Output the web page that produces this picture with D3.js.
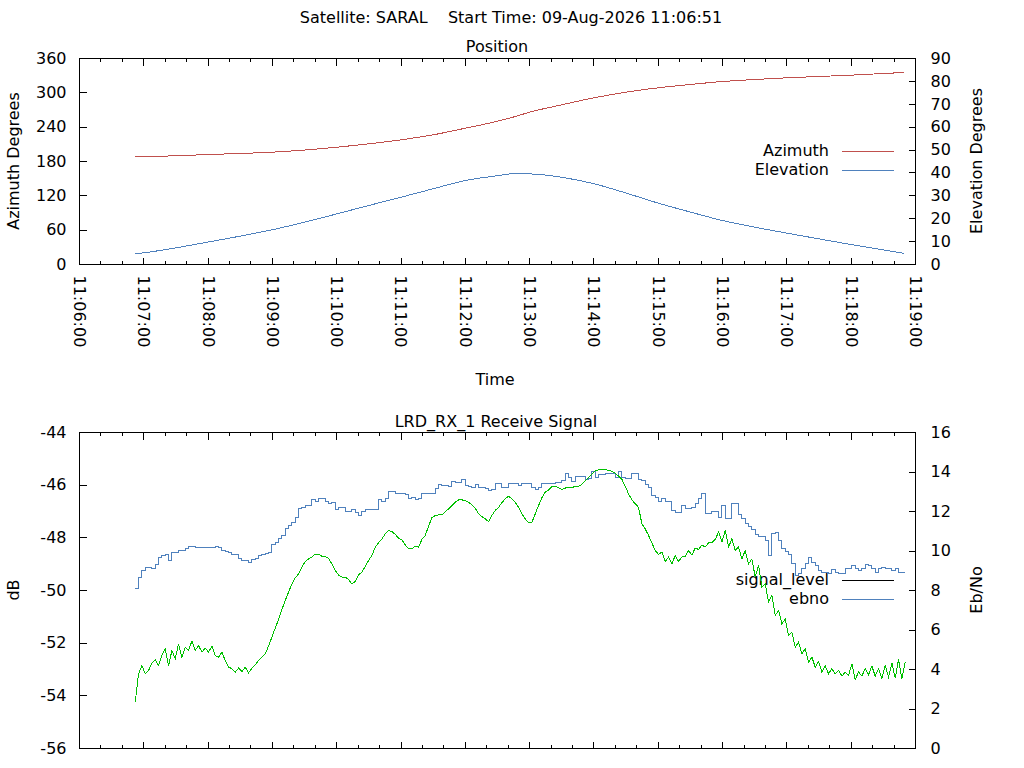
<!DOCTYPE html>
<html><head><meta charset="utf-8">
<script src="https://cdn.jsdelivr.net/npm/d3@7"></script>
<style>
html,body{margin:0;padding:0;background:#fff;}
svg{display:block;}
text{font-family:"DejaVu Sans",sans-serif;font-size:16px;fill:#000;}
</style></head><body>
<svg id="chart" width="1024" height="768"></svg>
<script>
// ---------------- DATA ----------------
const mainTitle = "Satellite: SARAL    Start Time: 09-Aug-2026 11:06:51";
const positionTitle = "Position";
const signalTitle = "LRD_RX_1 Receive Signal";
const xDomain = ["11:06:00", "11:19:00"];

const posTimes = ["11:06:52","11:07:00","11:07:30","11:08:00","11:08:30","11:09:00","11:09:30","11:10:00","11:10:30","11:11:00","11:11:30","11:12:00","11:12:30","11:12:45","11:13:00","11:13:30","11:14:00","11:14:30","11:15:00","11:15:30","11:16:00","11:16:30","11:17:00","11:17:30","11:18:00","11:18:30","11:18:49"];
const azimuth = [188.7,188.8,190.0,192.2,194.0,196.3,200.0,205.0,210.9,217.9,226.6,238.2,250.4,257.8,266.2,279.1,291.3,301.2,308.8,314.6,319.8,323.3,326.3,328.6,330.9,333.8,335.5];
const elevation = [4.7,5.1,7.3,9.8,12.4,15.2,18.5,22.1,25.8,29.4,33.1,36.7,38.8,39.7,39.6,38.1,35.3,31.2,26.8,22.9,19.2,16.3,13.7,11.2,8.7,6.4,4.9];

const azTicks = [0,60,120,180,240,300,360];
const elTicks = [0,10,20,30,40,50,60,70,80,90];
const dbTicks = [-56,-54,-52,-50,-48,-46,-44];
const ebTicks = [0,2,4,6,8,10,12,14,16];

const SIGNAL_START = "11:06:52";
const SIGNAL_STEP_S = 3.11;

const signalLevel = [
-54.24,-53.16,-52.85,-53.16,-53.04,-52.75,-52.62,-52.85,-52.47,-52.21,
-52.85,-52.28,-52.59,-52.03,-52.53,-52.15,-52.28,-51.92,-52.28,-52.09,
-52.34,-52.19,-52.34,-52.11,-52.47,-52.53,-52.34,-52.66,-52.91,-52.97,
-53.10,-52.95,-53.08,-52.91,-53.13,-52.95,-52.82,-52.66,-52.53,-52.41,
-52.11,-51.77,-51.43,-51.10,-50.72,-50.38,-50.06,-49.75,-49.52,-49.37,
-49.11,-48.90,-48.80,-48.73,-48.62,-48.62,-48.70,-48.71,-48.77,
-48.99,-49.24,-49.41,-49.49,-49.49,-49.58,-49.75,-49.66,-49.41,-49.30,
-49.09,-48.86,-48.67,-48.35,-48.19,-48.04,-47.85,-47.72,-47.76,-47.87,
-48.01,-48.08,-48.27,-48.42,-48.42,-48.32,-48.35,-48.06,-47.91,-47.56,
-47.24,-47.15,-47.13,-47.13,-47.00,-46.90,-46.77,-46.65,-46.56,-46.56,
-46.58,-46.65,-46.75,-46.87,-47.09,-47.19,-47.28,-47.38,-47.15,-46.96,
-46.84,-46.67,-46.52,-46.42,-46.52,-46.65,-46.84,-47.09,-47.28,
-47.43,-47.41,-47.09,-46.77,-46.48,-46.27,-46.18,-46.05,-46.04,-46.10,
-46.16,-46.11,-46.08,-46.09,-46.05,-46.04,-45.97,-45.84,-45.71,-45.57,
-45.46,-45.42,-45.42,-45.42,-45.43,-45.48,-45.54,-45.66,-45.78,-46.04,
-46.33,-46.56,-46.71,-46.84,-47.47,-47.66,-47.91,-48.19,-48.48,-48.63,
-48.54,-48.90,-48.73,-48.99,-48.67,-48.90,-48.73,-48.70,-48.48,-48.65,
-48.39,-48.44,-48.27,-48.35,-48.19,-48.19,-48.06,-47.78,
-48.16,-47.72,-48.35,-48.04,-48.48,-48.35,-48.80,-48.48,-48.99,-48.80,
-49.49,-49.05,-49.87,-49.75,-50.44,-50.19,-50.95,-50.76,-51.27,-51.08,
-51.71,-51.58,-52.15,-51.96,-52.41,-52.21,-52.72,-52.53,-52.91,-52.70,
-53.10,-52.87,-53.16,-52.97,-53.16,-53.04,-53.25,-53.10,-53.23,-52.78,
-53.38,-53.10,-53.25,-52.97,-53.20,-52.87,-53.25,-52.97,-53.35,-52.85,
-53.29,-52.75,-53.33,-52.62,-53.35,-52.70
];

const ebno = [
8.08,8.67,9.01,9.18,9.18,9.10,9.30,9.69,9.77,9.81,
9.52,9.91,9.91,10.03,10.03,10.14,10.24,10.24,10.16,10.16,
10.16,10.16,10.16,10.19,10.24,10.19,10.03,9.97,9.91,9.81,
9.81,9.60,9.50,9.50,9.40,9.57,9.60,9.77,9.81,9.89,
9.94,10.31,10.41,10.65,10.78,11.12,11.29,11.46,11.71,12.13,
12.22,12.30,12.30,12.59,12.51,12.67,12.67,12.51,12.39,
12.44,12.10,12.19,12.19,12.00,12.00,12.08,11.97,11.80,12.02,
12.10,12.10,12.10,12.10,12.61,12.51,12.67,13.01,13.01,12.89,
12.89,12.89,12.84,12.67,12.69,12.61,12.64,12.89,12.89,12.89,
12.89,13.18,13.35,13.32,13.32,13.28,13.52,13.45,13.45,13.60,
13.32,13.27,13.20,13.37,13.20,13.20,13.15,13.06,13.11,13.40,
13.40,13.20,13.20,13.40,13.40,13.40,13.32,13.40,13.40,
13.40,13.20,13.11,13.23,13.40,13.40,13.40,13.40,13.49,13.49,
13.57,13.91,13.74,13.52,13.79,13.79,13.79,13.62,13.69,14.03,
13.74,13.86,13.86,13.91,13.91,13.91,13.74,14.03,13.74,13.69,
13.69,13.91,13.91,13.62,13.57,13.35,13.20,12.81,12.73,12.51,
12.67,12.51,12.51,12.05,11.97,11.93,12.30,12.13,12.13,12.19,
12.39,12.64,12.89,11.88,11.88,12.00,12.00,11.71,
12.30,11.66,11.66,12.39,12.39,11.83,11.63,11.38,11.26,11.09,
10.82,10.75,10.75,10.53,9.77,10.87,10.95,10.53,10.11,9.97,
9.81,9.35,8.76,8.84,9.10,9.35,9.69,9.43,9.27,9.01,
8.93,8.93,8.84,9.06,8.89,8.84,8.84,9.10,9.10,9.27,
9.10,9.01,9.13,9.30,9.27,9.10,8.93,9.10,9.18,9.10,
9.10,9.01,9.10,8.89,8.89,8.89
];

// ---------------- DRAWING ----------------
const COLOR_AZ = "#c0504d", COLOR_EL = "#4f81bd", COLOR_SIG = "#00c000", COLOR_EB = "#4f81bd";
const T = s => { const p = s.split(":").map(Number); return new Date(2026, 7, 9, p[0], p[1], 0, Math.round(p[2]*1000)); };
const plainNum = d => String(d);

const svg = d3.select("#chart");
const X0 = 79.5, X1 = 915.5;
const x = d3.scaleTime().domain([T(xDomain[0]), T(xDomain[1])]).range([X0, X1]);

function panel(top, bottom, yL, yR, lTicks, rTicks, labels) {
  const g = svg.append("g").attr("shape-rendering", "crispEdges");
  g.append("rect").attr("x", X0).attr("y", top).attr("width", X1 - X0).attr("height", bottom - top)
    .attr("fill", "none").attr("stroke", "#000");
  const major = x.ticks(d3.timeMinute.every(1));
  const minor = d3.timeSecond.every(20).range(x.domain()[0], x.domain()[1]).filter(d => d.getSeconds() !== 0);
  const none = () => "";
  const axB = g.append("g").attr("transform", `translate(0,${bottom})`)
    .call(d3.axisBottom(x).tickValues(major).tickSizeInner(-7).tickSizeOuter(0).offset(0)
      .tickFormat(labels ? d3.timeFormat("%H:%M:%S") : none));
  g.append("g").attr("transform", `translate(0,${bottom})`)
    .call(d3.axisBottom(x).tickValues(minor).tickSizeInner(-3.5).tickSizeOuter(0).offset(0).tickFormat(none));
  g.append("g").attr("transform", `translate(0,${top})`)
    .call(d3.axisTop(x).tickValues(major).tickSizeInner(-7).tickSizeOuter(0).offset(0).tickFormat(none));
  g.append("g").attr("transform", `translate(0,${top})`)
    .call(d3.axisTop(x).tickValues(minor).tickSizeInner(-3.5).tickSizeOuter(0).offset(0).tickFormat(none));
  if (labels) {
    axB.selectAll(".tick text").attr("y", 0).attr("x", 0).attr("dy", "0.35em")
      .attr("text-anchor", "start").attr("transform", "translate(0,11) rotate(90)");
  }
  g.append("g").attr("transform", `translate(${X0},0)`)
    .call(d3.axisLeft(yL).tickValues(lTicks).tickFormat(plainNum).tickSizeInner(-7).tickSizeOuter(0).tickPadding(13).offset(0));
  g.append("g").attr("transform", `translate(${X1},0)`)
    .call(d3.axisRight(yR).tickValues(rTicks).tickFormat(plainNum).tickSizeInner(-7).tickSizeOuter(0).tickPadding(15).offset(0));
  g.selectAll(".domain").remove();
  g.selectAll(".tick line").attr("stroke", "#000");
  g.selectAll(".tick text").attr("dy", function(){ return d3.select(this).attr("transform") ? "0.35em" : "0.33em"; });
  return g;
}

function legend(items, y0) {
  items.forEach((it, i) => {
    const y = y0 + i * 19;
    svg.append("text").attr("x", 829).attr("y", y + 4.5).attr("text-anchor", "end").text(it.label);
    svg.append("line").attr("x1", 842).attr("x2", 894).attr("y1", y).attr("y2", y)
      .attr("stroke", it.color).attr("stroke-width", 1).attr("shape-rendering", "crispEdges");
  });
}

function yLabel(txt, cx, cy) {
  svg.append("text").attr("transform", `translate(${cx},${cy}) rotate(-90)`)
    .attr("text-anchor", "middle").attr("dy", "0.35em").text(txt);
}

// titles
svg.append("text").attr("x", 511).attr("y", 23).attr("text-anchor", "middle").style("white-space", "pre")
  .attr("xml:space", "preserve").text(mainTitle);
svg.append("text").attr("x", 497).attr("y", 52).attr("text-anchor", "middle").text(positionTitle);
svg.append("text").attr("x", 496).attr("y", 426.5).attr("text-anchor", "middle").text(signalTitle);
svg.append("text").attr("x", 495).attr("y", 385).attr("text-anchor", "middle").text("Time");

// ---- Position panel
const yAz = d3.scaleLinear().domain([0, 360]).range([264.5, 58.5]);
const yEl = d3.scaleLinear().domain([0, 90]).range([264.5, 58.5]);
panel(58.5, 264.5, yAz, yEl, azTicks, elTicks, true);
yLabel("Azimuth Degrees", 13, 161);
yLabel("Elevation Degrees", 976, 161);
legend([{label: "Azimuth", color: COLOR_AZ}, {label: "Elevation", color: COLOR_EL}], 151.5);

const posAz = posTimes.map((t, i) => ({t: T(t), v: azimuth[i]}));
const posEl = posTimes.map((t, i) => ({t: T(t), v: elevation[i]}));
svg.append("path").datum(posAz).attr("fill", "none").attr("stroke", COLOR_AZ).attr("stroke-width", 1)
  .attr("shape-rendering", "crispEdges")
  .attr("d", d3.line().x(d => x(d.t)).y(d => yAz(d.v)).curve(d3.curveMonotoneX));
svg.append("path").datum(posEl).attr("fill", "none").attr("stroke", COLOR_EL).attr("stroke-width", 1)
  .attr("shape-rendering", "crispEdges")
  .attr("d", d3.line().x(d => x(d.t)).y(d => yEl(d.v)).curve(d3.curveMonotoneX));

// ---- Signal panel
const yDb = d3.scaleLinear().domain([-56, -44]).range([748.5, 432.5]);
const yEb = d3.scaleLinear().domain([0, 16]).range([748.5, 432.5]);
panel(432.5, 748.5, yDb, yEb, dbTicks, ebTicks, false);
yLabel("dB", 13, 590);
yLabel("Eb/No", 976, 590);
legend([{label: "signal_level", color: "#000"}, {label: "ebno", color: COLOR_EB}], 580.5);

const t0 = +T(SIGNAL_START);
const sigData = signalLevel.map((v, i) => ({t: new Date(t0 + i * SIGNAL_STEP_S * 1000), v}));
const ebData = ebno.map((v, i) => ({t: new Date(t0 + i * SIGNAL_STEP_S * 1000), v}));
svg.append("path").datum(ebData).attr("fill", "none").attr("stroke", COLOR_EB).attr("stroke-width", 1)
  .attr("shape-rendering", "crispEdges")
  .attr("d", d3.line().x(d => x(d.t)).y(d => yEb(d.v)).curve(d3.curveStepAfter));
svg.append("path").datum(sigData).attr("fill", "none").attr("stroke", COLOR_SIG).attr("stroke-width", 1)
  .attr("shape-rendering", "crispEdges")
  .attr("d", d3.line().x(d => x(d.t)).y(d => yDb(d.v)));
</script>
</body></html>
